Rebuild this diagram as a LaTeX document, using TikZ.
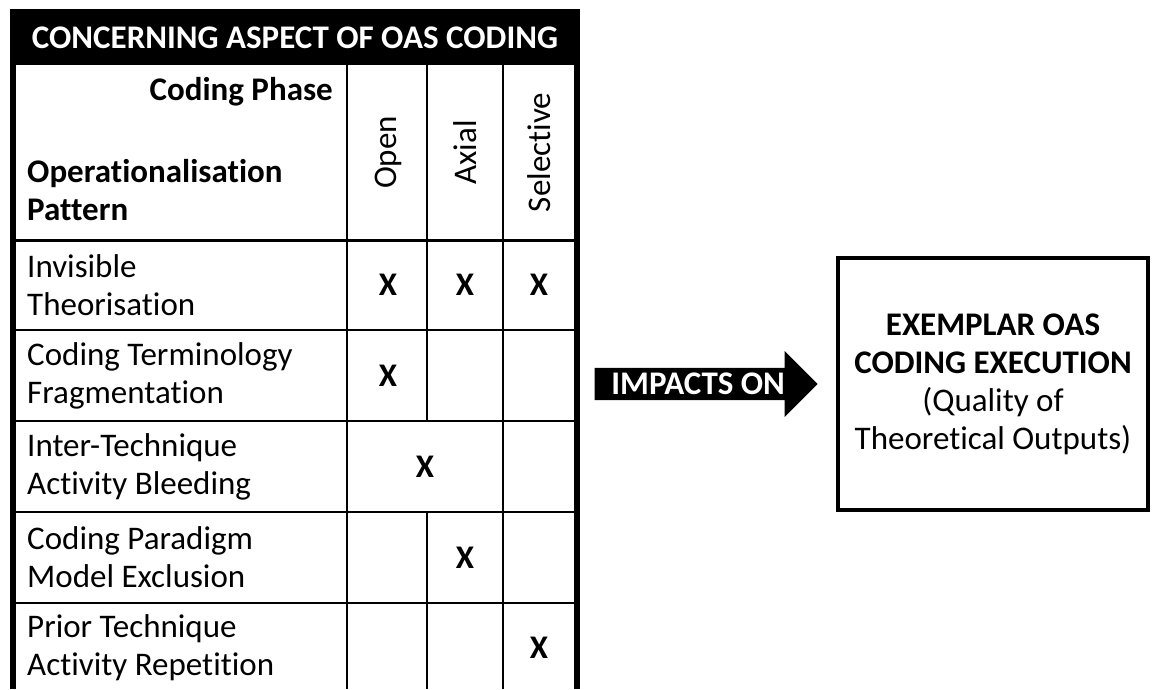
\documentclass[tikz,border=0pt]{standalone}
\usepackage{fontspec}
\setmainfont{Carlito}[Ligatures=NoCommon]
\usetikzlibrary{shapes.arrows}
\tikzset{
  txt/.style={inner sep=0pt, font=\fontsize{33}{38}\selectfont},
  txtbold/.style={inner sep=0pt, font=\fontsize{33}{38}\selectfont\bfseries},
  rowlabel/.style={txt, anchor=west, align=left},
  phasehead/.style={txt, rotate=90},
  gridline/.style={line width=1.5pt},
  frameline/.style={line width=5.5pt},
}

\begin{document}
\begin{tikzpicture}[x=1pt, y=-1pt]
  \useasboundingbox (0,0) rectangle (1153,689);
  % title bar
  \fill (10,9) rectangle (580,65);
  \node[txtbold, text=white] (title) at (295,38) {CONCERNING ASPECT OF OAS CODING};
  % frame and rules of the table
  \draw[frameline] (13,65) -- (13,689) (577,65) -- (577,689);
  \draw[line width=3pt] (13,240) -- (577,240);
  \draw[gridline] (13,330) -- (577,330) (13,421) -- (577,421)
    (13,512) -- (577,512) (13,603) -- (577,603);
  \draw[gridline] (347,65) -- (347,689) (503,65) -- (503,689);
  \draw[gridline] (427,65) -- (427,421) (427,512) -- (427,689);
  % header cells
  \node[txtbold, anchor=east] (phase) at (333,92) {Coding Phase};
  \node[txtbold, anchor=west, align=left] (pattern) at (27,190) {Operationalisation\\Pattern};
  \node[phasehead] (open) at (388,152.5) {Open};
  \node[phasehead] (axial) at (465,152.5) {Axial};
  \node[phasehead] (selective) at (539,152.5) {Selective};
  % pattern rows
  \node[rowlabel] (invisible) at (27,285) {Invisible\\Theorisation};
  \node[rowlabel] (terminology) at (27,375.5) {Coding Terminology\\Fragmentation};
  \node[rowlabel] (bleeding) at (27,466.5) {Inter-Technique\\Activity Bleeding};
  \node[rowlabel] (exclusion) at (27,557.5) {Coding Paradigm\\Model Exclusion};
  \node[rowlabel] (repetition) at (27,648) {Prior Technique\\Activity Repetition};
  % marks
  \node[txtbold] (xa) at (388,285) {X};
  \node[txtbold] (xb) at (465,285) {X};
  \node[txtbold] (xc) at (539,285) {X};
  \node[txtbold] (xd) at (388,375.5) {X};
  \node[txtbold] (xe) at (425,466.5) {X};
  \node[txtbold] (xf) at (465,557.5) {X};
  \node[txtbold] (xg) at (539,648) {X};
  % outcome
  \node[txt, draw, line width=4pt, minimum width=310pt, minimum height=252pt, align=center]
    (outcome) at (993,384)
    {\textbf{EXEMPLAR OAS}\\\textbf{CODING EXECUTION}\\(Quality of\\Theoretical Outputs)};
  \node[single arrow, fill=black, text=white, font=\fontsize{33}{38}\selectfont\bfseries,
    minimum height=223pt, single arrow head extend=17pt, text height=21pt, text depth=0pt,
    inner ysep=5.5pt, inner xsep=4pt, anchor=tip]
    (impacts) at ([xshift=-18pt]outcome.west) {IMPACTS ON};
\end{tikzpicture}
\end{document}
